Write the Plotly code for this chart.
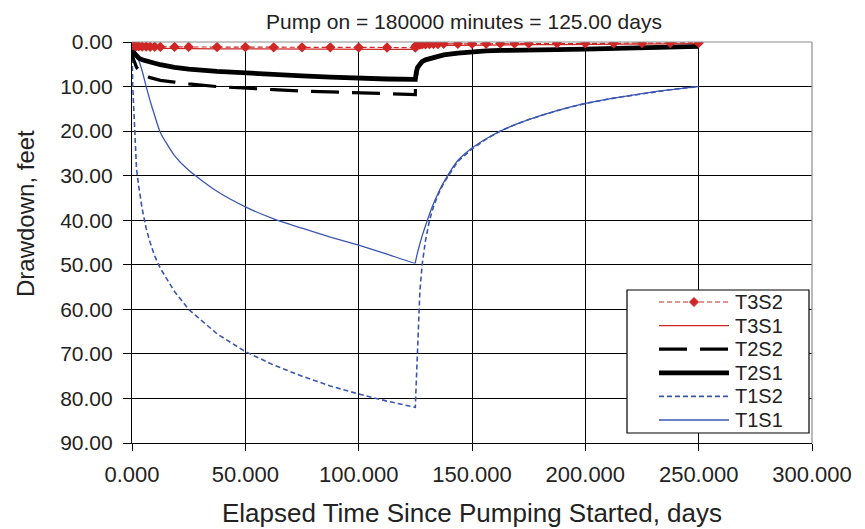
import plotly.graph_objects as go

# ---- data ----
time_days = [0, 0.02, 0.1, 0.3, 0.6, 1, 1.5, 2, 3, 4.5, 6.25, 8, 10, 12.5, 18.75, 25,
             37.5, 50, 62.5, 75, 87.5, 100, 112.5, 125,
             125.1, 125.5, 126, 127, 128, 129.5, 131.25, 133, 135, 137.5, 143.75, 150,
             156.25, 162.5, 168.75, 175, 187.5, 200, 212.5, 225, 237.5, 250]

T1S1 = [0, 0.3, 0.6, 1.0, 1.4, 1.9, 2.6, 3.2, 4.2, 6.5, 10.0, 13.2, 16.5, 20.3, 25.5, 28.8,
        33.5, 37.0, 39.7, 41.8, 43.8, 45.6, 47.6, 49.6,
        49.2, 48.3, 47.2, 45.3, 43.5, 41.2, 38.6, 36.3, 34.0, 31.5, 26.6, 23.8,
        21.7, 20.0, 18.6, 17.4, 15.4, 13.8, 12.6, 11.6, 10.7, 10.0]

T1S2 = [0, 2.5, 6.0, 9.5, 13.0, 18.0, 24.0, 28.5, 32.5, 37.5, 41.8, 45.0, 48.0, 50.8, 56.0, 60.0,
        65.5, 69.5, 72.5, 75.0, 77.2, 79.0, 80.6, 82.0,
        80.5, 75.0, 67.0, 56.0, 50.0, 44.5, 40.0, 37.0, 34.3, 31.7, 26.8, 24.0,
        21.8, 20.0, 18.6, 17.4, 15.4, 13.8, 12.6, 11.6, 10.7, 10.0]

T2S1 = [0, 0.6, 1.1, 1.6, 2.1, 2.5, 2.9, 3.2, 3.6, 4.0, 4.3, 4.6, 4.8, 5.1, 5.7, 6.1,
        6.6, 7.0, 7.3, 7.6, 7.9, 8.2, 8.3, 8.4,
        7.6, 6.6, 5.7, 4.9, 4.4, 4.0, 3.7, 3.4, 3.1, 2.9, 2.5, 2.2,
        2.0, 1.9, 1.8, 1.75, 1.7, 1.6, 1.5, 1.35, 1.2, 1.0]

T2S2 = [0, 1.0, 2.0, 3.0, 3.8, 4.5, 5.2, 5.7, 6.3, 7.0, 7.6, 8.0, 8.3, 8.6, 9.0, 9.4,
        10.0, 10.4, 10.7, 11.0, 11.2, 11.4, 11.6, 11.8,
        9.0, 7.2, 5.9, 5.0, 4.5, 4.0, 3.7, 3.4, 3.1, 2.9, 2.5, 2.2,
        2.0, 1.9, 1.8, 1.75, 1.7, 1.6, 1.5, 1.35, 1.2, 1.0]

T3S1 = [0, 0.3, 0.6, 0.9, 1.05, 1.15, 1.2, 1.25, 1.3, 1.35, 1.4, 1.4, 1.45, 1.45, 1.5, 1.5,
        1.55, 1.55, 1.6, 1.6, 1.6, 1.65, 1.65, 1.65,
        1.5, 1.3, 1.15, 1.0, 0.95, 0.9, 0.85, 0.8, 0.8, 0.75, 0.75, 0.7,
        0.7, 0.65, 0.65, 0.6, 0.6, 0.55, 0.5, 0.45, 0.4, 0.35]

T3S2 = [0, 0.2, 0.4, 0.6, 0.7, 0.8, 0.85, 0.9, 0.95, 1.0, 1.0, 1.05, 1.05, 1.1, 1.1, 1.1,
        1.15, 1.15, 1.2, 1.2, 1.2, 1.25, 1.25, 1.25,
        1.0, 0.7, 0.6, 0.55, 0.5, 0.5, 0.45, 0.45, 0.45, 0.4, 0.4, 0.4,
        0.4, 0.35, 0.35, 0.35, 0.3, 0.3, 0.3, 0.25, 0.25, 0.2]

x_ticks = [0, 50, 100, 150, 200, 250, 300]
y_ticks = [0, 10, 20, 30, 40, 50, 60, 70, 80, 90]

title_text = "Pump on = 180000 minutes = 125.00 days"
x_title = "Elapsed Time Since Pumping Started, days"
y_title = "Drawdown, feet"
legend_names = ["T3S2", "T3S1", "T2S2", "T2S1", "T1S2", "T1S1"]

BLUE = "#3a56b0"
RED = "#d02626"
FONT = "Liberation Sans, Arial, sans-serif"
TXT = "#222222"

# plot-area geometry (pixels)
L, R, T, B = 132, 812, 42, 443
W, H = 865, 529


def px(xp):
    return (xp - L) / (R - L)


def py(yp):
    return (B - yp) / (B - T)


styles = {
    "T1S1": dict(line=dict(color=BLUE, width=1.3), mode="lines"),
    "T1S2": dict(line=dict(color=BLUE, width=1.6, dash="5px,3px"), mode="lines"),
    "T2S1": dict(line=dict(color="black", width=4.8), mode="lines"),
    "T2S2": dict(line=dict(color="black", width=3.2, dash="28px,13px"), mode="lines"),
    "T3S1": dict(line=dict(color=RED, width=1.3), mode="lines"),
    "T3S2": dict(line=dict(color=RED, width=1.2, dash="5px,3px"), mode="lines+markers",
                 marker=dict(symbol="diamond", size=8, color=RED)),
}
series = {"T1S1": T1S1, "T1S2": T1S2, "T2S1": T2S1, "T2S2": T2S2, "T3S1": T3S1, "T3S2": T3S2}

fig = go.Figure()
for name in ["T1S1", "T1S2", "T2S1", "T2S2", "T3S1", "T3S2"]:
    st = dict(styles[name])
    line = dict(st.pop("line"))
    if name in ("T1S1",):
        line["shape"] = "spline"
        line["smoothing"] = 0.6
    fig.add_trace(go.Scatter(x=time_days, y=series[name], name=name, line=line, **st))

fig.update_layout(
    width=W, height=H,
    margin=dict(l=L, r=W - R, t=T, b=H - B, autoexpand=False),
    paper_bgcolor="white", plot_bgcolor="white",
    font=dict(family=FONT, color=TXT, size=20),
    showlegend=False,
    title=dict(text=title_text, x=px(464), xref="paper", xanchor="center",
               y=1 - 22 / H, yref="container", yanchor="middle",
               font=dict(size=21, color=TXT)),
)

fig.update_xaxes(range=[0, 300], tickvals=x_ticks, tickformat=".3f", automargin=False,
                 showgrid=True, gridcolor="black", gridwidth=1,
                 showline=True, linecolor="black", linewidth=1.2,
                 ticks="outside", ticklen=7, tickcolor="black",
                 tickfont=dict(size=22, color=TXT), ticklabelstandoff=4,
                 zeroline=False,
                 title=dict(text=x_title, font=dict(size=26, color=TXT), standoff=18))
fig.update_yaxes(range=[90, 0], tickvals=y_ticks, tickformat=".2f", automargin=False,
                 showgrid=True, gridcolor="black", gridwidth=1,
                 showline=True, linecolor="black", linewidth=1.2,
                 ticks="outside", ticklen=8, tickcolor="black",
                 tickfont=dict(size=21, color=TXT), ticklabelstandoff=6,
                 zeroline=False)

# y-axis title
fig.add_annotation(text=y_title, textangle=-90, xref="paper", yref="paper",
                   x=px(25), y=py(214), xanchor="center", yanchor="middle",
                   showarrow=False, font=dict(size=24, color=TXT))

# plot-area border (top and right gray edges)
fig.add_shape(type="line", xref="paper", yref="paper", x0=0, x1=1, y0=1, y1=1,
              line=dict(color="#8c8c8c", width=1.2), layer="above")
fig.add_shape(type="line", xref="paper", yref="paper", x0=1, x1=1, y0=0, y1=1,
              line=dict(color="#8c8c8c", width=1.2), layer="above")

# legend (drawn by hand to match the reference's compact spacing)
fig.add_shape(type="rect", xref="paper", yref="paper",
              x0=px(627), x1=px(809), y0=py(433), y1=py(290),
              line=dict(color="black", width=1.2), fillcolor="white", layer="above")
for i, name in enumerate(legend_names):
    yy = 302 + i * 23.6
    ln = dict(styles[name]["line"])
    fig.add_shape(type="line", xref="paper", yref="paper",
                  x0=px(659), x1=px(729), y0=py(yy), y1=py(yy),
                  line=ln, layer="above")
    if name == "T3S2":
        cx, cy, d = 694, yy, 4.5
        path = "M {} {} L {} {} L {} {} L {} {} Z".format(
            px(cx - d), py(cy), px(cx), py(cy - d), px(cx + d), py(cy), px(cx), py(cy + d))
        fig.add_shape(type="path", xref="paper", yref="paper", path=path,
                      fillcolor=RED, line=dict(color=RED, width=1), layer="above")
    fig.add_annotation(text=name, xref="paper", yref="paper", x=px(733), y=py(yy),
                       xanchor="left", yanchor="middle", showarrow=False,
                       font=dict(size=20, color=TXT))

fig.write_html("out.html", config={"displayModeBar": False},
               post_script="document.body.style.margin='0';")
